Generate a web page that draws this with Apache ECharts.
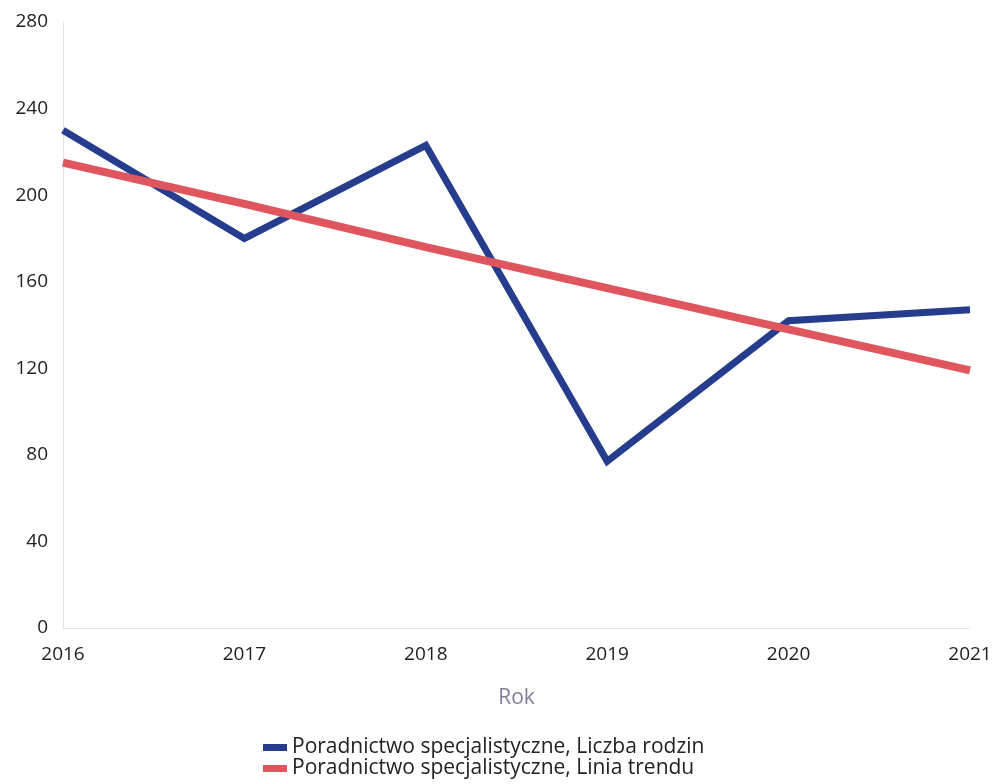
<!DOCTYPE html>
<html><head><meta charset="utf-8">
<script src="https://cdn.jsdelivr.net/npm/echarts@6/dist/echarts.min.js"></script>
<style>html,body{margin:0;padding:0;background:#fff}#c{width:995px;height:784px}</style>
</head><body><div id="c"></div>
<script>
const years = ['2016','2017','2018','2019','2020','2021'];
const liczbaRodzin = [230, 180, 223, 77, 142, 147];
const liniaTrendu = [215, 196, 176, 157, 138, 119];
const yTicks = {min: 0, max: 280, interval: 40};
const seriesNames = ['Poradnictwo specjalistyczne, Liczba rodzin', 'Poradnictwo specjalistyczne, Linia trendu'];

const chart = echarts.init(document.getElementById('c'));
chart.setOption({
  animation: false,
  backgroundColor: '#fff',
  grid: {left: 63, right: 25, top: 22, bottom: 156},
  legend: {
    orient: 'vertical', left: 258, top: 732, itemGap: 0,
    itemWidth: 24, itemHeight: 7, icon: 'rect',
    textStyle: {fontFamily: 'Open Sans', fontSize: 21, color: '#222'},
    data: seriesNames
  },
  xAxis: {
    type: 'category', data: years, boundaryGap: false,
    name: 'Rok', nameLocation: 'middle', nameGap: 60,
    nameTextStyle: {fontFamily: 'Open Sans', fontSize: 21, color: '#7f7f9a'},
    axisLine: {lineStyle: {color: '#e4e4e4', width: 1}},
    axisTick: {show: false},
    axisLabel: {fontFamily: 'Open Sans', fontSize: 19, color: '#222', margin: 17},
    splitLine: {show: false}
  },
  yAxis: {
    type: 'value', min: yTicks.min, max: yTicks.max, interval: yTicks.interval,
    axisLine: {show: true, lineStyle: {color: '#e4e4e4', width: 1}},
    axisTick: {show: false},
    axisLabel: {fontFamily: 'Open Sans', fontSize: 19, color: '#222', margin: 15},
    splitLine: {show: false}
  },
  series: [
    {name: seriesNames[0], type: 'line', data: liczbaRodzin, symbol: 'none',
     lineStyle: {color: '#253d8c', width: 7, join: 'miter'}, itemStyle: {color: '#253d8c'}, z: 2},
    {name: seriesNames[1], type: 'line', data: liniaTrendu, symbol: 'none',
     lineStyle: {color: '#e0565f', width: 8}, itemStyle: {color: '#e0565f'}, z: 3}
  ]
});
</script></body></html>
